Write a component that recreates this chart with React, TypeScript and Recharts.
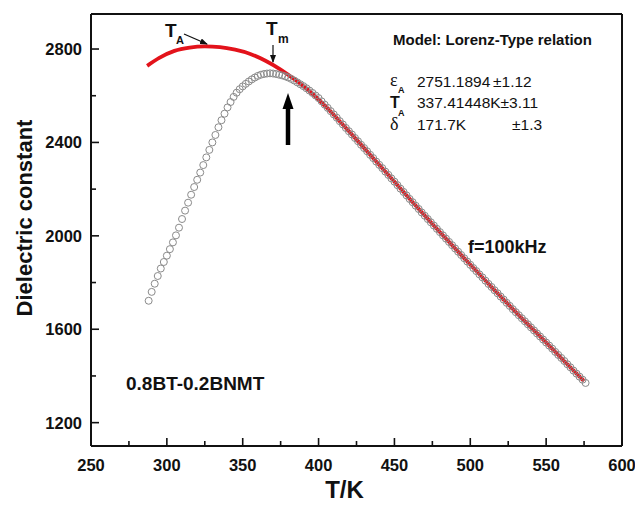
import React from 'react';
import { ComposedChart, Scatter, Line, XAxis, YAxis, Label } from 'recharts';

// measured dielectric constant, f = 100 kHz
const measTemp = [
  288, 290, 292, 294, 296, 298, 300, 302, 304, 306, 308, 310, 312, 314, 316, 318, 320, 322, 324, 326,
  328, 330, 332, 334, 336, 338, 340, 342, 344, 346, 348, 350, 352, 354, 356, 358, 360, 362, 364, 366,
  368, 370, 372, 374, 376, 378, 380, 382, 384, 386, 388, 390, 392, 394, 396, 398, 400, 402, 404, 406,
  408, 410, 412, 414, 416, 418, 420, 422, 424, 426, 428, 430, 432, 434, 436, 438, 440, 442, 444, 446,
  448, 450, 452, 454, 456, 458, 460, 462, 464, 466, 468, 470, 472, 474, 476, 478, 480, 482, 484, 486,
  488, 490, 492, 494, 496, 498, 500, 502, 504, 506, 508, 510, 512, 514, 516, 518, 520, 522, 524, 526,
  528, 530, 532, 534, 536, 538, 540, 542, 544, 546, 548, 550, 552, 554, 556, 558, 560, 562, 564, 566,
  568, 570, 572, 574, 576,
];
const measEps = [
  1722, 1760, 1795, 1828, 1860, 1888, 1915, 1943, 1972, 2002, 2035, 2072, 2108, 2142, 2176, 2209, 2240, 2271, 2303, 2336,
  2368, 2400, 2432, 2465, 2495, 2523, 2550, 2573, 2595, 2613, 2628, 2640, 2651, 2661, 2670, 2678, 2685, 2690, 2693, 2695,
  2696, 2695, 2693, 2690, 2687, 2683, 2678, 2672, 2665, 2657, 2649, 2641, 2632, 2622, 2612, 2601, 2590, 2576, 2562, 2548,
  2534, 2520, 2506, 2491, 2477, 2462, 2448, 2434, 2419, 2405, 2390, 2376, 2362, 2347, 2333, 2318, 2304, 2290, 2275, 2261,
  2246, 2232, 2217, 2202, 2188, 2173, 2158, 2144, 2129, 2115, 2100, 2086, 2072, 2058, 2044, 2030, 2016, 2002, 1988, 1974,
  1960, 1946, 1932, 1918, 1904, 1890, 1876, 1862, 1849, 1835, 1822, 1808, 1794, 1781, 1767, 1754, 1740, 1727, 1713, 1700,
  1686, 1673, 1660, 1647, 1634, 1621, 1608, 1595, 1582, 1569, 1556, 1543, 1530, 1517, 1503, 1490, 1477, 1464, 1450, 1437,
  1423, 1410, 1397, 1384, 1370,
];

// Lorenz-type fit (red curve)
const fitTemp = [287, 295, 305, 315, 325, 335, 345, 355, 365, 375, 385, 395, 405, 415, 425, 435, 445, 455, 465, 475, 485, 495, 505, 515, 525, 535, 545, 555, 565, 575];
const fitEps = [2728, 2762, 2792, 2806, 2811, 2808, 2797, 2779, 2750, 2712, 2666, 2614, 2552, 2483, 2412, 2340, 2268, 2195, 2122, 2051, 1981, 1911, 1843, 1774, 1707, 1640, 1576, 1510, 1443, 1378];

const xTicks = [250, 275, 300, 325, 350, 375, 400, 425, 450, 475, 500, 525, 550, 575, 600];
const yTicks = [1200, 1400, 1600, 1800, 2000, 2200, 2400, 2600, 2800];

const measured = measTemp.map((T, i) => ({ T, eps: measEps[i] }));
const fitted = fitTemp.map((T, i) => ({ T, fit: fitEps[i] }));

const FONT = '"Liberation Sans", Arial, sans-serif';

function XTick({ x, y, payload }: any) {
  const major = payload.value % 50 === 0;
  return (
    <g>
      <line x1={x} y1={y} x2={x} y2={y - (major ? 8 : 5)} stroke="#111" strokeWidth={1.6} />
      {major && (
        <text x={x} y={y + 25} textAnchor="middle" fontFamily={FONT} fontWeight="bold" fontSize={16.5} fill="#111">
          {payload.value}
        </text>
      )}
    </g>
  );
}

function YTick({ x, y, payload }: any) {
  const major = payload.value % 400 === 0;
  return (
    <g>
      <line x1={x} y1={y} x2={x + (major ? 8 : 5)} y2={y} stroke="#111" strokeWidth={1.6} />
      {major && (
        <text x={x - 9} y={y + 6} textAnchor="end" fontFamily={FONT} fontWeight="bold" fontSize={16.5} fill="#111">
          {payload.value}
        </text>
      )}
    </g>
  );
}

function Ring({ cx, cy }: any) {
  return <circle cx={cx} cy={cy} r={3.5} fill="none" stroke="#8a8a8a" strokeWidth={1} />;
}

export default function App() {
  return (
    <div style={{ position: 'absolute', left: 0, top: 0, width: 635, height: 505, background: '#fff' }}>
      <ComposedChart width={635} height={505} margin={{ top: 13, right: 12, bottom: 0, left: 0 }}>
        <XAxis
          dataKey="T"
          type="number"
          domain={[250, 600]}
          ticks={xTicks}
          interval={0}
          height={59}
          tickSize={0}
          tickMargin={0}
          tick={<XTick />}
          axisLine={{ stroke: '#111', strokeWidth: 2 }}
        >
          <Label
            content={({ viewBox }: any) => (
              <text
                x={viewBox.x + viewBox.width / 2 - 12}
                y={498}
                textAnchor="middle"
                fontFamily={FONT}
                fontWeight="bold"
                fontSize={24}
                fill="#111"
              >
                T/K
              </text>
            )}
          />
        </XAxis>
        <XAxis
          xAxisId="top"
          orientation="top"
          dataKey="T"
          type="number"
          domain={[250, 600]}
          height={1}
          tick={false}
          tickLine={false}
          axisLine={{ stroke: '#111', strokeWidth: 2 }}
        />
        <YAxis
          type="number"
          domain={[1100, 2950]}
          ticks={yTicks}
          interval={0}
          width={91}
          tickSize={0}
          tickMargin={0}
          tick={<YTick />}
          axisLine={{ stroke: '#111', strokeWidth: 2 }}
        >
          <Label
            content={({ viewBox }: any) => {
              const cx = 32;
              const cy = viewBox.y + viewBox.height / 2 - 12;
              return (
                <text
                  x={cx}
                  y={cy}
                  transform={`rotate(-90, ${cx}, ${cy})`}
                  textAnchor="middle"
                  fontFamily={FONT}
                  fontWeight="bold"
                  fontSize={22}
                  fill="#111"
                >
                  Dielectric constant
                </text>
              );
            }}
          />
        </YAxis>
        <YAxis
          yAxisId="right"
          orientation="right"
          type="number"
          domain={[1100, 2950]}
          width={1}
          tick={false}
          tickLine={false}
          axisLine={{ stroke: '#111', strokeWidth: 2 }}
        />
        <Scatter data={measured} dataKey="eps" shape={<Ring />} isAnimationActive={false} />
        <Scatter data={measured} dataKey="eps" xAxisId="top" yAxisId="right" shape={() => null} isAnimationActive={false} />
        <Line data={fitted} dataKey="fit" type="monotone" stroke="#e3131b" strokeWidth={3.8} dot={false} isAnimationActive={false} />
      </ComposedChart>

      <svg width={635} height={505} style={{ position: 'absolute', left: 0, top: 0, pointerEvents: 'none' }} fontFamily={FONT} fill="#111">
        <defs>
          <marker id="thinHead" markerWidth="8" markerHeight="6" refX="7" refY="3" orient="auto" markerUnits="userSpaceOnUse">
            <path d="M0,0 L8,3 L0,6 Z" fill="#111" />
          </marker>
        </defs>
        {/* T_A */}
        <text x={165} y={37} fontSize={19} fontWeight="bold">T</text>
        <text x={176} y={44} fontSize={11} fontWeight="bold">A</text>
        <line x1={184} y1={34} x2={207} y2={44} stroke="#111" strokeWidth={1.3} markerEnd="url(#thinHead)" />
        {/* T_m */}
        <text x={266} y={35} fontSize={19} fontWeight="bold">T</text>
        <text x={278} y={43} fontSize={12} fontWeight="bold">m</text>
        <line x1={273} y1={45} x2={273} y2={62} stroke="#111" strokeWidth={1.2} markerEnd="url(#thinHead)" />
        {/* big arrow */}
        <line x1={288} y1={145} x2={288} y2={104} stroke="#000" strokeWidth={4.5} />
        <polygon points="282.5,109 288,93 293.5,109" fill="#000" />

        <text x={393} y={45} fontSize={15} fontWeight="bold">Model: Lorenz-Type relation</text>

        <text x={390} y={86} fontSize={18} fontFamily='"Liberation Serif", serif'>ε</text>
        <text x={398} y={93} fontSize={9} fontWeight="bold">A</text>
        <text x={417} y={87} fontSize={15.5}>2751.1894</text>
        <text x={493} y={87} fontSize={15.5}>±1.12</text>

        <text x={390} y={108} fontSize={16} fontWeight="bold">T</text>
        <text x={398} y={116} fontSize={9} fontWeight="bold">A</text>
        <text x={417} y={108} fontSize={15.5}>337.41448K±3.11</text>

        <text x={390} y={130} fontSize={18} fontFamily='"Liberation Serif", serif'>δ</text>
        <text x={417} y={130} fontSize={15.5}>171.7K</text>
        <text x={512} y={130} fontSize={15.5}>±1.3</text>

        <text x={468} y={253} fontSize={18} fontWeight="bold">f=100kHz</text>
        <text x={126} y={390} fontSize={19} fontWeight="bold">0.8BT-0.2BNMT</text>
      </svg>
    </div>
  );
}
